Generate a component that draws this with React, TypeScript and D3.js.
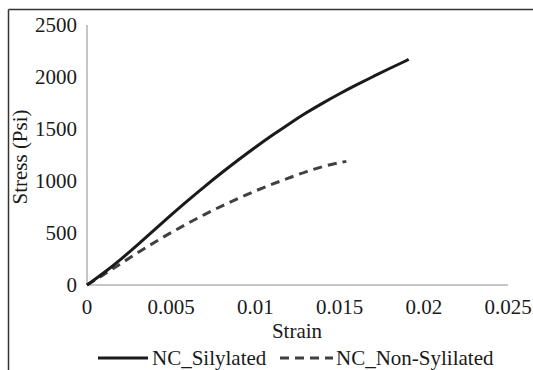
import * as d3 from "d3"

// strain / stress
const silylatedStrain = [0, 0.001, 0.002, 0.003, 0.004, 0.005, 0.006, 0.007, 0.008, 0.009, 0.01, 0.011, 0.012, 0.013, 0.014, 0.015, 0.016, 0.017, 0.018, 0.019, 0.0191]
const silylatedStress = [0, 115, 245, 385, 530, 675, 815, 950, 1080, 1205, 1325, 1440, 1550, 1655, 1750, 1840, 1925, 2005, 2085, 2160, 2170]

const nonSilylatedStrain = [0, 0.001, 0.002, 0.003, 0.004, 0.005, 0.006, 0.007, 0.008, 0.009, 0.01, 0.011, 0.012, 0.013, 0.014, 0.015, 0.0154]
const nonSilylatedStress = [0, 100, 205, 310, 410, 505, 595, 680, 760, 835, 905, 970, 1030, 1090, 1140, 1178, 1188]

const xTicks = [0, 0.005, 0.01, 0.015, 0.02, 0.025]
const yTicks = [0, 500, 1000, 1500, 2000, 2500]

const W = 533
const H = 370

export default function App() {
  const x = d3.scaleLinear().domain([0, 0.025]).range([87, 508])
  const y = d3.scaleLinear().domain([0, 2500]).range([285, 25])

  const line = d3.line<[number, number]>()
    .x(d => x(d[0]))
    .y(d => y(d[1]))
    .curve(d3.curveBasis)

  const sil = silylatedStrain.map((s, i) => [s, silylatedStress[i]] as [number, number])
  const non = nonSilylatedStrain.map((s, i) => [s, nonSilylatedStress[i]] as [number, number])

  return (
    <svg width={W} height={H} style={{ position: "fixed", left: 0, top: 0, background: "#fff" }}>
      <style>{`.lbl { font-family: "Liberation Serif", "Times New Roman"; font-size: 21px; fill: #1a1a1a; }`}</style>
      {/* frame (top and left only, figure is cropped) */}
      <line x1={8.5} x2={W} y1={9.5} y2={9.5} stroke="#333" strokeWidth={1.5} />
      <line x1={8.5} x2={8.5} y1={9.5} y2={H} stroke="#333" strokeWidth={1.5} />

      {/* axes */}
      <line x1={x(0)} x2={x(0)} y1={y(2500)} y2={y(0)} stroke="#8c8c8c" strokeWidth={1} />
      <line x1={x(0)} x2={x(0.025)} y1={y(0)} y2={y(0)} stroke="#8c8c8c" strokeWidth={1} />

      {yTicks.map(t => (
        <text key={t} className="lbl" x={77} y={y(t)} dy="0.35em" textAnchor="end">{t}</text>
      ))}
      {xTicks.map(t => (
        <text key={t} className="lbl" x={x(t)} y={314} textAnchor="middle">{t}</text>
      ))}

      <text className="lbl" x={297} y={338} textAnchor="middle">Strain</text>
      <text className="lbl" transform="translate(27,157) rotate(-90)" textAnchor="middle">Stress (Psi)</text>

      {/* series */}
      <path d={line(non) ?? ""} fill="none" stroke="#404040" strokeWidth={3} strokeDasharray="9,6" />
      <path d={line(sil) ?? ""} fill="none" stroke="#1a1a1a" strokeWidth={3} />

      {/* legend */}
      <line x1={98} x2={148} y1={358} y2={358} stroke="#1a1a1a" strokeWidth={3} />
      <text className="lbl" x={152} y={365}>NC_Silylated</text>
      <line x1={280} x2={333} y1={358} y2={358} stroke="#404040" strokeWidth={3} strokeDasharray="9,6" />
      <text className="lbl" x={336} y={365}>NC_Non-Sylilated</text>
    </svg>
  )
}
